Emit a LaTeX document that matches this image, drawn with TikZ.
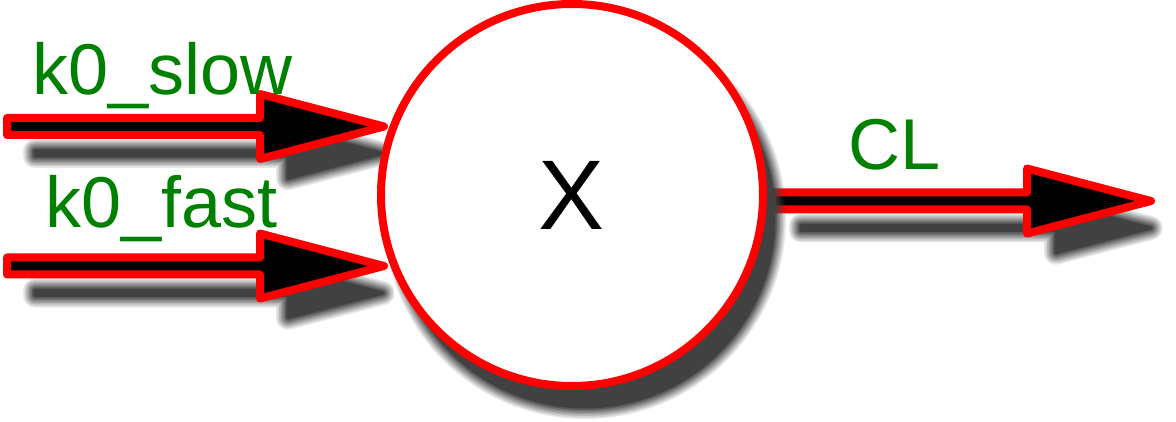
\documentclass[tikz,border=0pt]{standalone}
\usepackage{fontspec}
\setmainfont{Liberation Sans}
\usetikzlibrary{calc}
\definecolor{lblgreen}{HTML}{008000}
\definecolor{shadowc}{HTML}{414141}
\definecolor{ringred}{HTML}{FF0000}
% fat arrow outline from coordinate #1 (shaft start) to #2 (tip),
% offset by (#3,#4) and inset by #5
\newcommand\fatarrowpath[5]{%
  ($(#1)+(#3+#5,#4-8.5+#5)$) --
  ($(#2)+(#3-124+#5,#4-8.5+#5)$) --
  ($(#2)+(#3-124+#5,#4-32.5+1.301*#5)$) --
  ($(#2)+(#3-3.886*#5,#4)$) --
  ($(#2)+(#3-124+#5,#4+32.5-1.301*#5)$) --
  ($(#2)+(#3-124+#5,#4+8.5-#5)$) --
  ($(#1)+(#3+#5,#4+8.5-#5)$) -- cycle}
% soft shadow: linear ramp of 12pt around the shape, core given inset by 6
\newcommand\softshade[1]{%
  \foreach \lw/\op in {24/0.125,21/0.1429,18/0.1667,15/0.2,12/0.25,9/0.3333,6/0.5,3/1}
    {\path[shadowblur, line width=\lw pt, draw opacity=\op] #1;}
  \path[fill=shadowc] #1;}
\tikzset{
  shadowblur/.style={draw=shadowc, line join=round},
  fatarrow/.style={draw=ringred, fill=black, line width=8pt, line join=round},
  ring/.style={circle, draw=ringred, line width=8pt, fill=white, minimum size=382pt, inner sep=0pt, font=\fontsize{99}{99}\selectfont},
  lbl/.style={text=lblgreen, inner sep=0pt, anchor=base west, font=\fontsize{72}{72}\selectfont}
}
\begin{document}
\begin{tikzpicture}[x=1pt,y=-1pt]
\useasboundingbox (0,0) rectangle (1176,422);
% endpoints
\coordinate (s1) at (7,126.5);
\coordinate (t1) at (384,126.5);
\coordinate (s2) at (7,266);
\coordinate (t2) at (384,266);
\coordinate (s3) at (772,201);
\coordinate (t3) at (1151,201);
\coordinate (xc) at (572,195);
% arrow shadows
\softshade{\fatarrowpath{s1}{t1}{22}{27}{6}}
\softshade{\fatarrowpath{s2}{t2}{22}{27}{6}}
\softshade{\fatarrowpath{s3}{t3}{23}{27}{6}}
% arrows
\path[fatarrow] \fatarrowpath{s1}{t1}{0}{0}{0};
\path[fatarrow] \fatarrowpath{s2}{t2}{0}{0}{0};
\path[fatarrow] \fatarrowpath{s3}{t3}{0}{0}{0};
% circle shadow and circle
\softshade{($(xc)+(13,23)$) circle[radius=189]}
\node[ring] (X) at (xc) {X};
% labels
\node[lbl] (lslow) at (32,95) {k0\_slow};
\node[lbl] (lfast) at (45,228) {k0\_fast};
\node[lbl] (lcl) at (848,170) {CL};
\end{tikzpicture}
\end{document}
